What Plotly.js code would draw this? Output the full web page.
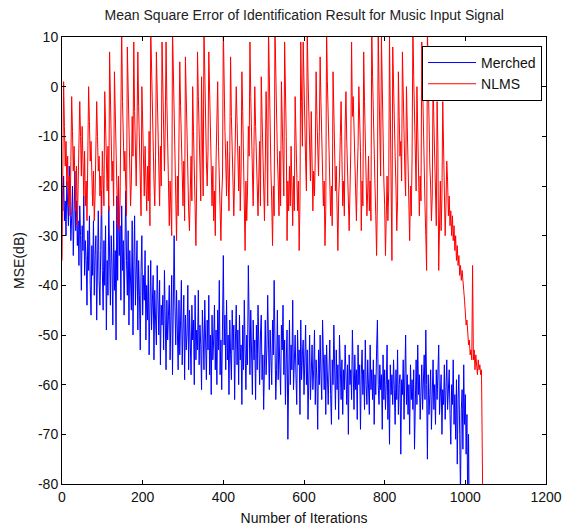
<!DOCTYPE html>
<html>
<head>
<meta charset="utf-8">
<script src="https://cdn.plot.ly/plotly-3.0.1.min.js"></script>
<style>
html,body{margin:0;padding:0;background:#fff;}
#chart{width:574px;height:530px;}
</style>
</head>
<body>
<div id="chart"></div>
<script>
// Sampling step of the recorded curves (iterations between stored samples)
const iterStep = 2;

// Merched algorithm MSE (dB), every 2 iterations (rows of 20 iterations)
const merchedMSE = [
-21,-25,-18,-27,-23,-30,-19,-24,-28,-16,
-22,-31,-26,-20,-34,-25,-17,-29,-23,-32,
-27,-36,-24,-30,-41,-28,-33,-22,-38,-31,
-35,-44,-29,-37,-26,-40,-46,-32,-38,-27,
-42,-34,-30,-47,-36,-25,-39,-44,-33,-21,
-37,-45,-31,-40,-28,-49,-35,-42,-24,-38,
-44,-30,-36,-48,-27,-41,-33,-51,-22,-39,
-19,-34,-28,-43,-24,-37,-31,-46,-26,-21,
-35,-42,-29,-48,-33,-38,-45,-27,-50,-36,
-26,-44,-39,-31,-49,-35,-42,-53,-37,-30,
-46,-38,-43,-33,-51,-40,-47,-36,-54,-42,
-35,-49,-44,-38,-55,-41,-47,-52,-36,-45,
-50,-39,-56,-44,-48,-42,-53,-37,-49,-57,
-43,-51,-46,-40,-55,-48,-38,-58,-45,-30,
-44,-52,-41,-49,-57,-43,-54,-47,-39,-56,
-48,-42,-59,-46,-53,-50,-40,-57,-45,-52,
-58,-44,-51,-47,-60,-42,-55,-49,-53,-41,
-56,-48,-52,-61,-45,-50,-57,-43,-54,-59,
-47,-53,-42,-58,-50,-62,-46,-55,-51,-44,
-57,-49,-60,-45,-53,-39,-58,-51,-61,-48,
-34,-52,-46,-57,-43,-55,-50,-62,-47,-54,
-59,-45,-53,-48,-63,-51,-44,-56,-49,-60,
-46,-55,-52,-64,-48,-57,-43,-53,-61,-50,
-56,-36,-49,-58,-45,-54,-62,-47,-55,-51,
-63,-48,-57,-44,-53,-60,-50,-46,-59,-54,
-65,-51,-47,-58,-53,-42,-56,-61,-49,-55,
-60,-47,-54,-39,-52,-63,-57,-45,-59,-50,
-56,-62,-48,-53,-44,-58,-51,-64,-55,-49,
-71,-54,-47,-60,-52,-57,-43,-61,-55,-50,
-58,-64,-49,-56,-53,-66,-47,-59,-54,-51,
-62,-56,-48,-60,-53,-67,-55,-50,-63,-58,
-52,-61,-57,-49,-64,-55,-59,-69,-53,-60,
-50,-58,-63,-47,-56,-61,-54,-66,-52,-59,
-64,-57,-51,-62,-68,-55,-60,-48,-58,-65,
-53,-61,-56,-67,-50,-59,-63,-55,-66,-57,
-61,-52,-58,-64,-56,-70,-54,-60,-57,-63,
-49,-59,-65,-54,-61,-57,-67,-52,-60,-56,
-69,-58,-53,-62,-57,-65,-51,-60,-64,-55,
-59,-66,-52,-61,-57,-63,-55,-68,-58,-62,
-53,-47,-60,-64,-56,-61,-58,-69,-54,-63,
-57,-65,-60,-52,-67,-59,-72,-56,-62,-58,
-64,-55,-61,-68,-57,-63,-53,-66,-60,-58,
-74,-59,-62,-55,-67,-61,-50,-64,-58,-66,
-60,-70,-56,-63,-59,-65,-57,-73,-61,-55,
-64,-52,-62,-58,-67,-60,-56,-65,-61,-54,
-63,-49,-60,-75,-58,-66,-62,-57,-69,-61,
-55,-65,-60,-68,-57,-63,-59,-52,-66,-62,
-58,-70,-61,-64,-56,-67,-60,-55,-65,-62,
-57,-66,-72,-60,-64,-55,-68,-62,-71,-59,
-76,-63,-58,-70,-82,-65,-61,-73,-56,-68,
-62,-74,-66,-85,-70,-90
];

// NLMS algorithm MSE (dB), every 2 iterations (rows of 20 iterations)
const nlmsMSE = [
-35,-12,1,-8,-16,-11,-20,-14,-24,-18,
-26,-15,-2,-9,-17,-12,-21,-25,-16,-28,
-20,-13,-3,-10,-18,-8,-15,-22,-13,-24,
-19,-27,-14,0,-7,-15,-11,-20,-24,-17,
-27,-22,-11,-3,-10,-17,-14,-22,-18,-26,
-13,-20,-24,-1,-9,-16,-21,-12,-25,7,
-4,-12,-19,-15,-24,3,-6,-14,-22,-28,
-18,-29,-23,-8,12,-3,-10,-17,-13,-22,
-26,8,-2,-11,-16,-24,-19,-6,-14,9,
-5,-13,-20,-9,7,-4,-12,-19,-26,0,
-8,-15,-22,-12,-20,-25,-16,-23,-9,-28,
12,2,-6,-13,-19,-24,-14,7,-2,-11,
-18,-24,-12,-20,9,-1,-10,-17,-8,9,
-3,-14,-21,-28,-19,-25,-30,12,1,-8,
-15,-22,-31,-18,-26,-12,5,-4,-13,-20,
-24,-15,-27,6,-3,-11,-18,-25,-29,-20,
-14,-23,0,-9,-16,-26,-32,-19,7,-2,
-10,-17,-23,2,-8,-22,12,1,-7,-15,
-20,-13,7,-3,-11,-18,-24,-16,-27,-21,
-30,-15,-8,1,-12,-20,-26,-31,-22,-18,
12,-4,-9,-15,-22,-11,-18,-25,-13,6,
-6,-14,-20,-26,-18,-9,0,-7,-15,-21,
-12,-25,-17,3,-5,-14,-22,-33,-19,-27,
-21,-8,-14,9,-2,-11,-18,-24,-12,0,
-8,-15,-22,-26,-18,-11,-24,2,-6,-13,
-20,-27,-16,-1,-9,-24,12,0,-9,-17,
-23,-32,-20,-26,12,1,-6,-14,-19,-26,
-13,-24,1,-8,-14,-22,9,-1,-10,-31,
-19,-25,-16,-24,-12,-20,-28,-18,-25,-2,
-9,-16,-25,-19,-33,-23,9,-3,-12,9,
-1,-10,-15,-21,12,2,-8,-14,-19,-5,
-13,-25,-17,-22,-14,3,-6,-11,-18,-9,
6,-3,-10,-16,-24,-19,-32,-25,12,1,
-7,-13,-17,-26,-20,-28,3,-5,-12,-21,
-16,-27,-33,-22,-18,-10,-3,-14,-24,-19,
-26,-8,-1,-11,-19,-24,-29,-21,-13,9,
-6,-2,-10,-16,-22,-27,-18,-12,0,-7,
-13,-29,-19,-24,7,-3,-9,-18,-26,-21,
-14,-25,-19,-27,12,2,-8,-15,-20,-26,
-34,-22,12,0,-10,-18,10,-2,-12,-19,
-24,-34,-26,-18,-27,-21,10,-3,-13,-35,
8,-2,-9,-14,-20,-29,-23,3,-6,-14,
-11,-19,7,-3,-11,-17,-22,0,-8,-17,
-24,-31,-20,-26,-14,12,2,-8,-15,-21,
0,-7,-15,-26,-18,-23,9,-1,-12,-20,
-24,-30,-37,12,0,-10,-16,-20,-27,-22,
2,-7,-16,-22,-28,-3,-12,-37,-25,-19,
-29,-22,-3,-14,-22,-30,-24,-15,-19,-26,
-22,-28,-25,-30,-26,-31,-28,-33,-30,-35,
-32,-36,-34,-38,-36,-39,-37,-40,-41,-43,
-45,-48,-47,-50,-52,-51,-54,-53,-55,-36,
-55,-53,-57,-54,-56,-58,-55,-57,-56,-58,
-57,-68,-90
];

const merchedIter = merchedMSE.map((_, i) => i * iterStep);
const nlmsIter = nlmsMSE.map((_, i) => i * iterStep);

const xTickVals = [0, 200, 400, 600, 800, 1000, 1200];
const yTickVals = [10, 0, -10, -20, -30, -40, -50, -60, -70, -80];

const titleText = 'Mean Square Error of Identification Result for Music Input Signal';
const xTitle = 'Number of Iterations';
const yTitle = 'MSE(dB)';
const seriesNames = ['Merched', 'NLMS'];

const FONT = 'Liberation Sans, Arial, Helvetica, sans-serif';

const traces = [
  {x: merchedIter, y: merchedMSE, name: seriesNames[0], type: 'scatter', mode: 'lines',
   line: {color: '#0000ff', width: 1}},
  {x: nlmsIter, y: nlmsMSE, name: seriesNames[1], type: 'scatter', mode: 'lines',
   line: {color: '#ff0000', width: 1}}
];

const axisCommon = {
  showline: true, linecolor: '#000', linewidth: 1, mirror: 'ticks',
  ticks: 'inside', ticklen: 4, tickcolor: '#000', tickwidth: 1,
  showgrid: false, zeroline: false,
  tickfont: {family: FONT, size: 14, color: '#111'}
};

const layout = {
  width: 574, height: 530,
  margin: {l: 62, r: 28, t: 37, b: 46},
  paper_bgcolor: '#fff', plot_bgcolor: '#fff',
  showlegend: true,
  title: {text: titleText, font: {family: FONT, size: 14, color: '#222'},
          x: 0.53, xanchor: 'center', y: 0.972, yanchor: 'middle', yref: 'container'},
  xaxis: Object.assign({}, axisCommon, {
    range: [0, 1200], tickvals: xTickVals, ticktext: xTickVals.map(String),
    title: {text: xTitle, font: {family: FONT, size: 14, color: '#111'}, standoff: 9}
  }),
  yaxis: Object.assign({}, axisCommon, {
    range: [-80, 10], tickvals: yTickVals, ticktext: yTickVals.map(String),
    title: {text: yTitle, font: {family: FONT, size: 14, color: '#111'}, standoff: 10}
  }),
  legend: {
    x: 0.744, y: 0.98, xanchor: 'left', yanchor: 'top',
    bgcolor: '#fff', bordercolor: '#000', borderwidth: 1,
    itemwidth: 48,
    font: {family: FONT, size: 14, color: '#111'}
  }
};

Plotly.newPlot('chart', traces, layout, {displayModeBar: false, staticPlot: true});
</script>
</body>
</html>
